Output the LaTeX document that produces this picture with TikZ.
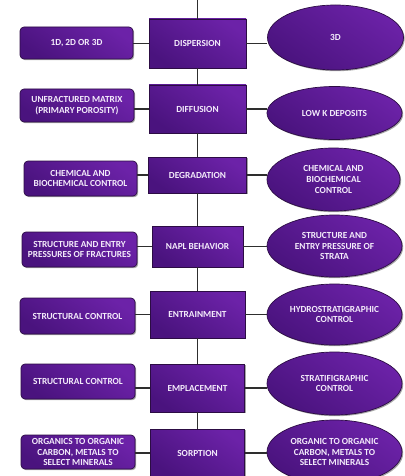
\documentclass[tikz,border=0pt]{standalone}
\usepackage{fontspec}
\setmainfont{Carlito}
\usetikzlibrary{shapes.geometric,shadows}

\definecolor{purpleDark}{HTML}{4A137E}
\definecolor{purpleLight}{HTML}{6C22A8}
\definecolor{purpleEdge}{HTML}{2C0C44}
\definecolor{labelInk}{HTML}{F4ECFB}
\definecolor{wireInk}{HTML}{2E2E2E}

\tikzset{
  x=1pt, y=-1pt,
  boxtext/.style={text=labelInk, font=\bfseries\fontsize{9.3}{10.7}\selectfont, align=center, inner sep=0pt},
  shadefill/.style={top color=purpleLight, bottom color=purpleDark, shading angle=-35,
    draw=purpleEdge, line width=0.7pt,
    drop shadow={shadow xshift=1.2pt, shadow yshift=-1.2pt, opacity=0.35, fill=black}},
  causebox/.style={boxtext, shadefill, rectangle, rounded corners=4pt},
  processbox/.style={boxtext, shadefill, rectangle},
  effectoval/.style={boxtext, shadefill, ellipse},
  wire/.style={draw=wireInk, line width=1.1pt},
}

\begin{document}
\begin{tikzpicture}
\useasboundingbox (0,0) rectangle (404,476);

% central process column
\node[processbox, minimum width=97pt, minimum height=49pt] (c1) at (197.5,43.5) {DISPERSION};
\node[processbox, minimum width=97pt, minimum height=48pt] (c2) at (197.5,109) {DIFFUSION};
\node[processbox, minimum width=98pt, minimum height=36pt] (c3) at (197.5,175) {DEGRADATION};
\node[processbox, minimum width=91pt, minimum height=41pt] (c4) at (197.5,246.5) {NAPL BEHAVIOR};
\node[processbox, minimum width=95pt, minimum height=47pt] (c5) at (197.5,314.5) {ENTRAINMENT};
\node[processbox, minimum width=94pt, minimum height=48pt] (c6) at (197.5,388) {EMPLACEMENT};
\node[processbox, minimum width=94pt, minimum height=48pt] (c7) at (197.5,453) {SORPTION};

% left column: fractured rock controls
\node[causebox, minimum width=113pt, minimum height=32pt] (l1) at (76.5,43) {1D, 2D OR 3D};
\node[causebox, minimum width=114pt, minimum height=33pt] (l2) at (77,105.5) {UNFRACTURED MATRIX\\(PRIMARY POROSITY)};
\node[causebox, minimum width=113pt, minimum height=35pt] (l3) at (80.5,178.5) {CHEMICAL AND\\BIOCHEMICAL CONTROL};
\node[causebox, minimum width=115pt, minimum height=35pt] (l4) at (79.5,249.5) {STRUCTURE AND ENTRY\\PRESSURES OF FRACTURES};
\node[causebox, minimum width=115pt, minimum height=36pt] (l5) at (77.5,316) {STRUCTURAL CONTROL};
\node[causebox, minimum width=114pt, minimum height=35pt] (l6) at (78,381.5) {STRUCTURAL CONTROL};
\node[causebox, minimum width=114pt, minimum height=34pt] (l7) at (78,452) {ORGANICS TO ORGANIC\\CARBON, METALS TO\\SELECT MINERALS};

% right column: porous media controls
\node[effectoval, minimum width=136pt, minimum height=65pt] (r1) at (335.5,37.5) {3D};
\node[effectoval, minimum width=135pt, minimum height=53pt] (r2) at (334.5,113) {LOW K DEPOSITS};
\node[effectoval, minimum width=133pt, minimum height=63pt] (r3) at (333.5,179.5) {CHEMICAL AND\\BIOCHEMICAL\\CONTROL};
\node[effectoval, minimum width=135pt, minimum height=62pt] (r4) at (334.5,246) {STRUCTURE AND\\ENTRY PRESSURE OF\\STRATA};
\node[effectoval, minimum width=135pt, minimum height=61pt] (r5) at (334.5,314.5) {HYDROSTRATIGRAPHIC\\CONTROL};
\node[effectoval, minimum width=135pt, minimum height=63pt] (r6) at (334.5,383.5) {STRATIFIGRAPHIC\\CONTROL};
\node[effectoval, minimum width=135pt, minimum height=64pt] (r7) at (334.5,452) {ORGANIC TO ORGANIC\\CARBON, METALS TO\\SELECT MINERALS};

% vertical spine
\coordinate (spinetop) at (197.5,0);
\draw[wire] (spinetop) -- (c1.north);
\foreach \a/\b in {c1/c2,c2/c3,c3/c4,c4/c5,c5/c6,c6/c7}
  \draw[wire] (\a.south) -- (\b.north);

% horizontal links
\foreach \i in {1,...,7}{
  \draw[wire] (c\i.west) -- (c\i.west -| l\i.east);
  \draw[wire] (c\i.east) -- (c\i.east -| r\i.west);
}
\end{tikzpicture}
\end{document}
